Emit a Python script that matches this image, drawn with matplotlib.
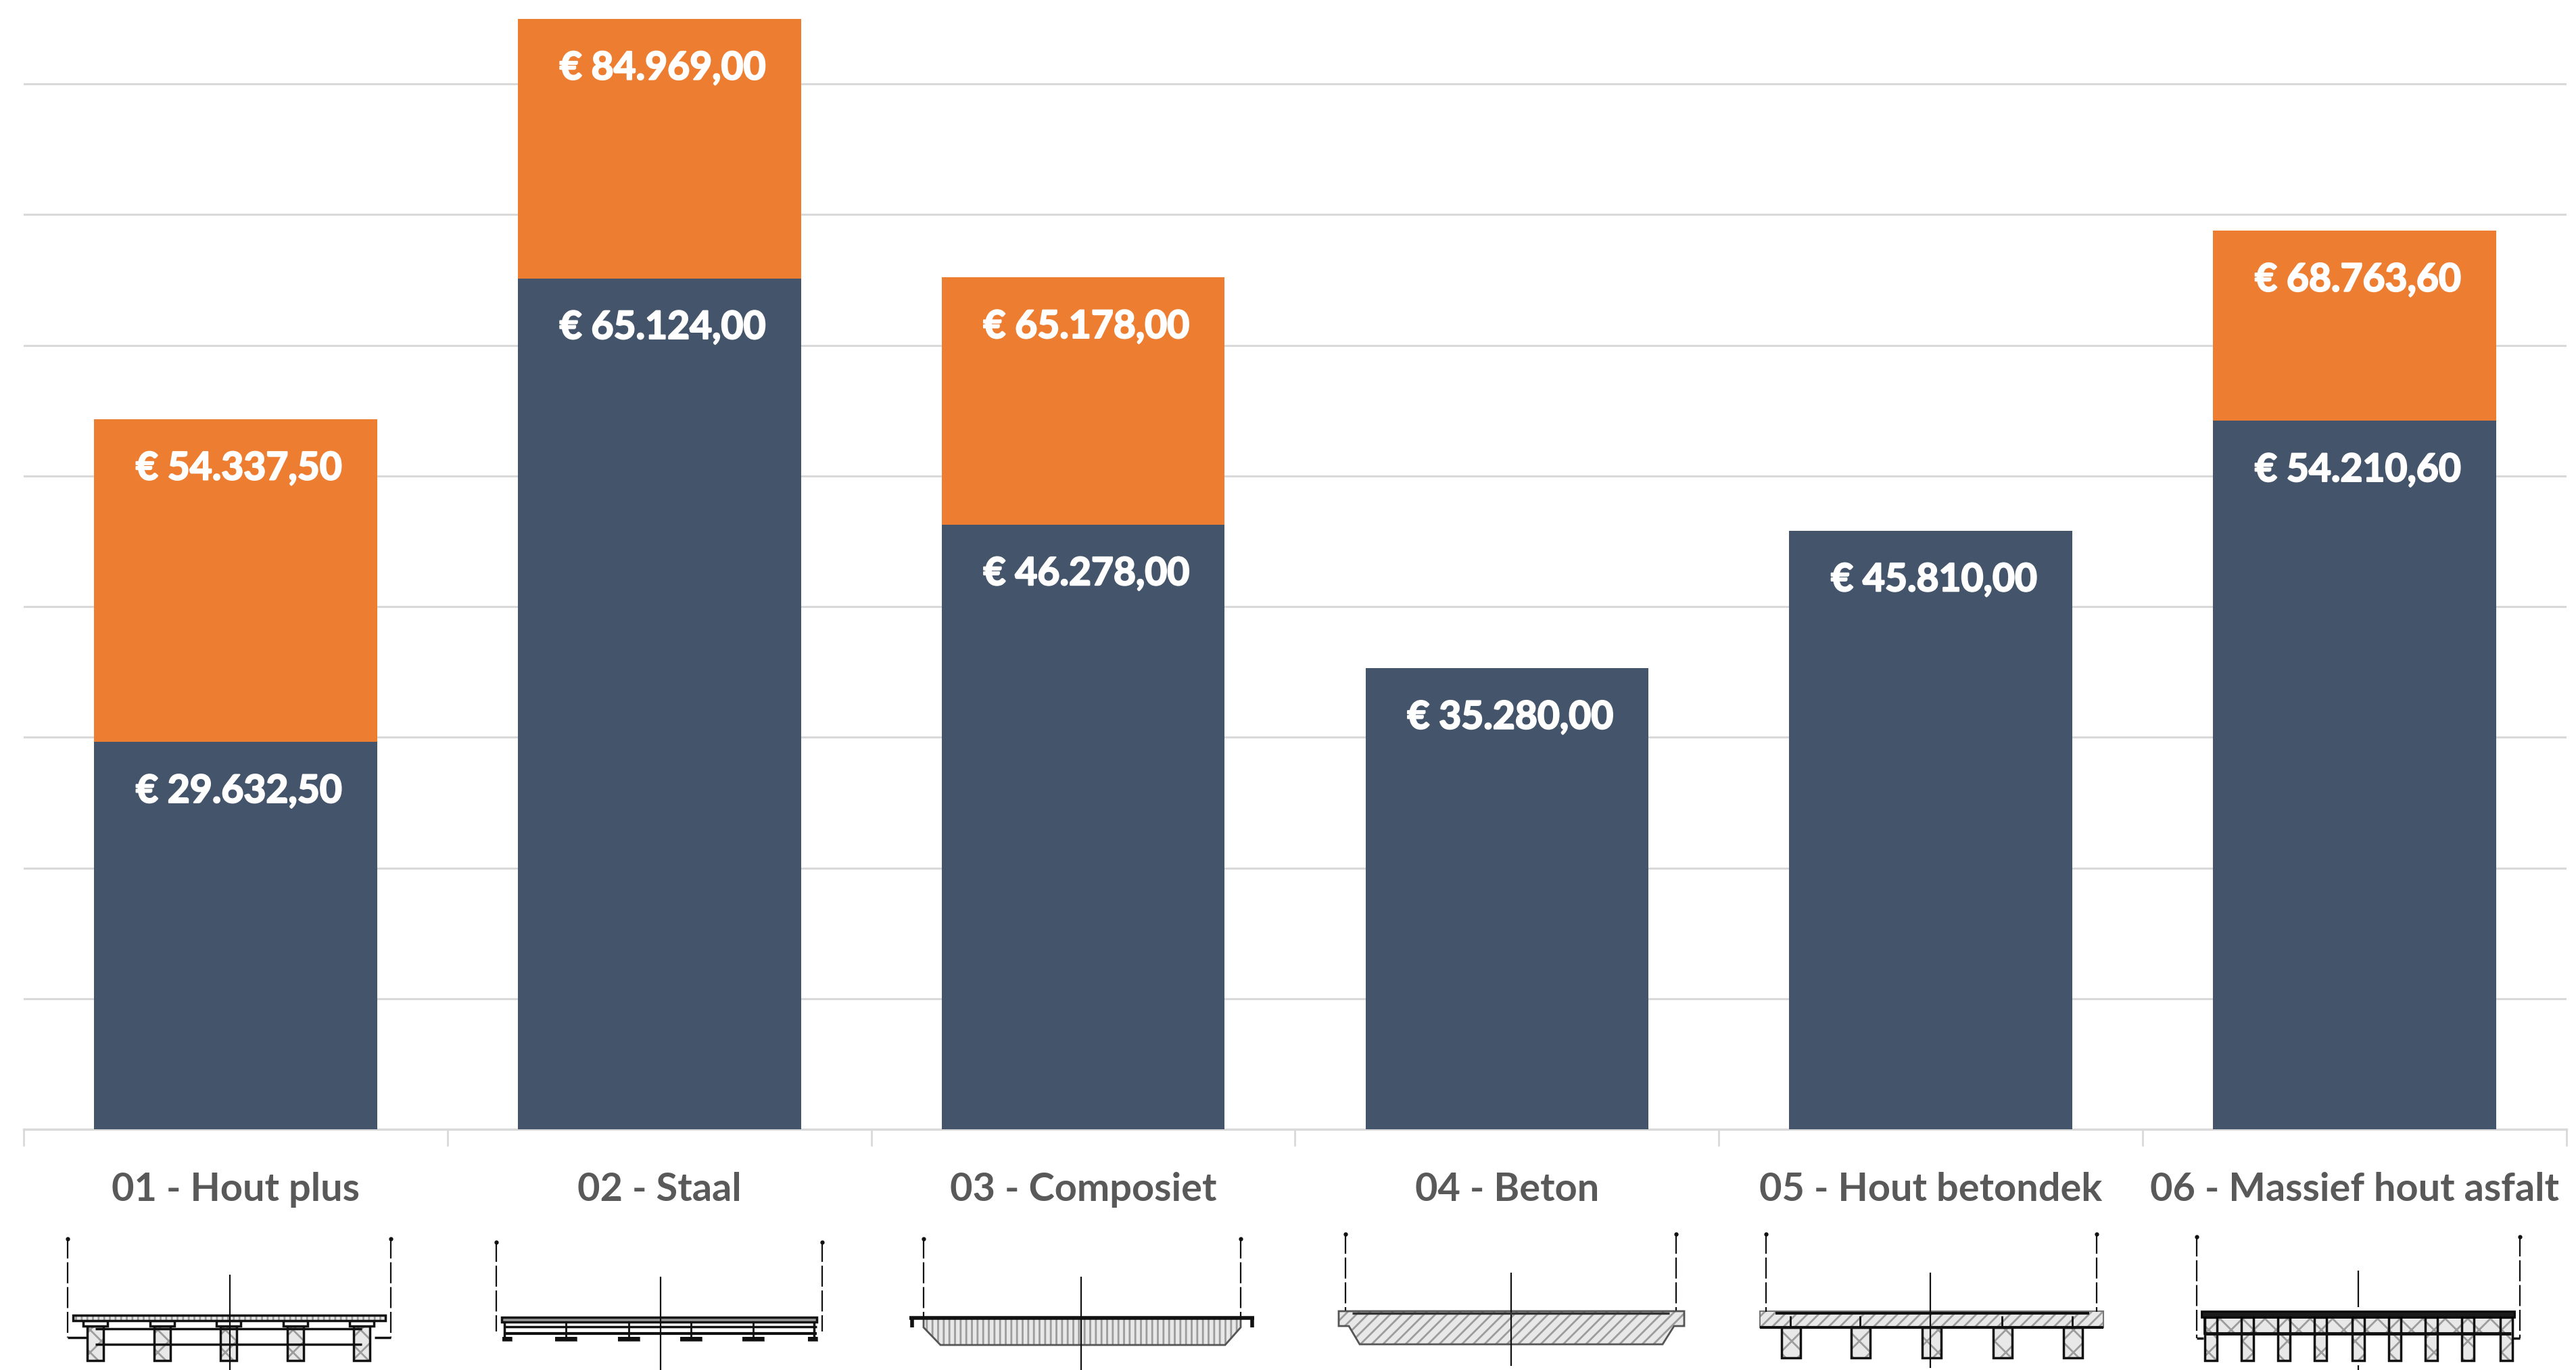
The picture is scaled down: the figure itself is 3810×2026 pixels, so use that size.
"""
Bridge deck cost comparison: stacked bars with a small cross section under each category
"""

import matplotlib.pyplot as plt
import matplotlib.patheffects as pe
from matplotlib.patches import Polygon, Rectangle
import numpy as np

categories = ["01 - Hout plus", "02 - Staal", "03 - Composiet", "04 - Beton",
              "05 - Hout betondek", "06 - Massief hout asfalt"]
lower_values = [29632.5, 65124.0, 46278.0, 35280.0, 45810.0, 54210.6]
upper_values = [54337.5, 84969.0, 65178.0, np.nan, np.nan, 68763.6]
gridline_values = [0, 10000, 20000, 30000, 40000, 50000, 60000, 70000, 80000]

BLUE = "#44546A"
ORANGE = "#ED7D31"
GRID = "#D9D9D9"
TEXT = "#595959"
LINE = "#111111"
HATCH_FILL = "#E8E8E8"
HATCH_LINE = "#9C9C9C"
WIDTH, HEIGHT = 3810, 2026

plt.rcParams["font.family"] = ["Lato", "DejaVu Sans"]
plt.rcParams["hatch.linewidth"] = 2.0


def euro(value):
    text = f"{value:,.2f}".replace(",", "_").replace(".", ",").replace("_", ".")
    return f"€ {text}"


def line(ax, xs, ys, lw=2.0, color=LINE, ls="-"):
    ax.plot(xs, ys, color=color, linewidth=lw, linestyle=ls, solid_capstyle="butt")


def box(ax, x0, y0, x1, y1, hatch=None, face=HATCH_FILL, edge=LINE, lw=2.0):
    # hatch takes the edge colour, so the fill and the outline are two patches
    ax.add_patch(Rectangle((x0, y0), x1 - x0, y1 - y0, facecolor=face, edgecolor=HATCH_LINE,
                           linewidth=0, hatch=hatch))
    ax.add_patch(Rectangle((x0, y0), x1 - x0, y1 - y0, facecolor="none", edgecolor=edge,
                           linewidth=lw))


def shape(ax, points, hatch, edge="#555555", lw=2.0):
    ax.add_patch(Polygon(points, facecolor=HATCH_FILL, edgecolor=HATCH_LINE, linewidth=0,
                         hatch=hatch))
    ax.add_patch(Polygon(points, facecolor="none", edgecolor=edge, linewidth=lw))


def guides(ax, left, right, center, top, bottom, center_top, gap=None, center_bottom=2026):
    # dashed outer guides with the small end dot, plus the centre line
    for x in (left, right):
        line(ax, [x, x], [top, bottom], lw=1.6, ls=(0, (14, 2.5)))
        ax.plot([x], [top + 2], marker="o", markersize=3.5, color=LINE)
    if gap is None:
        line(ax, [center, center], [center_top, center_bottom], lw=1.6)
    else:
        line(ax, [center, center], [center_top, gap[0]], lw=1.6)
        line(ax, [center, center], [gap[1], center_bottom], lw=1.6)


def draw_section_1(ax):
    guides(ax, 100, 578, 340, 1830, 1978, 1885)
    line(ax, [100, 129], [1978, 1978], lw=2.5)
    line(ax, [554, 578], [1978, 1978], lw=2.5)
    line(ax, [141, 535], [1965, 1965], lw=2.5)
    line(ax, [141, 535], [1988, 1988], lw=2.5)
    for x in [141, 240, 338, 437, 535]:
        box(ax, x - 12, 1961, x + 12, 2012, hatch="x", lw=2.5)
        box(ax, x - 18, 1953, x + 18, 1961, face="white", lw=2.5)
    box(ax, 108, 1945, 570, 1953, hatch="||", lw=2.5)


def draw_section_2(ax):
    guides(ax, 734, 1216, 977, 1835, 1969, 1888)
    box(ax, 742, 1948, 1208, 1955, face="#9A9A9A", lw=2.5)
    line(ax, [746, 1208], [1962, 1962], lw=2.5)
    line(ax, [746, 1208], [1972, 1972], lw=3.0)
    line(ax, [746, 746], [1955, 1977], lw=2.5)
    line(ax, [1204, 1204], [1955, 1977], lw=2.5)
    for x in [837, 930, 1022, 1114]:
        line(ax, [x, x], [1955, 1977], lw=2.0)
        box(ax, x - 16, 1977, x + 16, 1983, face=LINE, lw=0.5)
    for x in [750, 1202]:
        box(ax, x - 7, 1977, x + 7, 1983, face=LINE, lw=0.5)


def draw_section_3(ax):
    shape(ax, [(1366, 1949), (1366, 1963), (1391, 1989), (1812, 1989),
               (1835, 1963), (1835, 1949)], "||")
    guides(ax, 1366, 1835, 1599, 1830, 1948, 1888)
    line(ax, [1345, 1855], [1949, 1949], lw=4.0)
    line(ax, [1349, 1349], [1949, 1963], lw=4.0)
    line(ax, [1852, 1852], [1949, 1963], lw=4.0)


def draw_section_4(ax):
    shape(ax, [(1980, 1939), (2491, 1939), (2491, 1961), (2476, 1961),
               (2459, 1988), (2011, 1988), (1995, 1961), (1980, 1961)], "//")
    guides(ax, 1990, 2479, 2235, 1823, 1938, 1882, center_bottom=2020)
    line(ax, [2000, 2469], [1942, 1942], lw=2.5, color="#333333")


def draw_section_5(ax):
    for x in [2649, 2752, 2857, 2962, 3066]:
        box(ax, x - 14, 1963, x + 14, 2008, hatch="x", lw=2.5)
    box(ax, 2603, 1939, 3111, 1963, hatch="//", edge="#777777", lw=1.5)
    guides(ax, 2612, 3101, 2855, 1823, 1940, 1882, center_bottom=2023)
    for x in [2649, 2752, 2962, 3066]:
        line(ax, [x - 1, x - 1], [1946, 1963], lw=2.0)
    line(ax, [2603, 3111], [1963, 1963], lw=3.0)
    line(ax, [2626, 3090], [1942, 1942], lw=3.0)


def draw_section_6(ax):
    guides(ax, 3249, 3727, 3488, 1827, 1979, 1879, gap=(1933, 2019), center_bottom=2026)
    line(ax, [3249, 3259], [1979, 1979], lw=2.5)
    line(ax, [3717, 3727], [1979, 1979], lw=2.5)
    box(ax, 3260, 1948, 3714, 1972, hatch="x", lw=2.0)
    for x in [3270, 3324, 3378, 3432, 3488, 3542, 3596, 3650, 3707]:
        box(ax, x - 9, 1948, x + 9, 2012, hatch="x", lw=2.5)
    line(ax, [3260, 3714], [1972, 1972], lw=3.5)
    box(ax, 3256, 1939, 3719, 1948, face="#1A1A1A", edge="#000000", lw=2.0)


def bar_label(ax, xp, value):
    txt = ax.annotate(euro(value), (xp, value), xytext=(3.6, -52.5), textcoords="offset points",
                      ha="center", va="center", color="white", fontsize=41, fontweight="bold",
                      zorder=4)
    # Lato bold comes out thinner than the original label face
    txt.set_path_effects([pe.withStroke(linewidth=1.6, foreground="white")])


def plot_costs():
    fig = plt.figure(figsize=(WIDTH / 100, HEIGHT / 100), dpi=100, facecolor="white")
    ax = fig.add_axes([35 / WIDTH, (HEIGHT - 1670) / HEIGHT, 3761 / WIDTH, 1670 / HEIGHT])

    x = np.arange(len(categories))
    lower = np.array(lower_values)
    upper = np.array(upper_values)
    ax.bar(x, lower, width=0.668, color=BLUE, zorder=3)
    ax.bar(x, np.nan_to_num(upper - lower), bottom=lower, width=0.668, color=ORANGE, zorder=3)

    for xp, value in zip(x, lower_values):
        bar_label(ax, xp, value)
    for xp, value in zip(x, upper_values):
        if not np.isnan(value):
            bar_label(ax, xp, value)

    ax.set_xlim(-0.5, 5.5)
    ax.set_ylim(0, 86420)
    ax.set_yticks(gridline_values)
    ax.yaxis.grid(True, color=GRID, linewidth=2.2)
    ax.set_axisbelow(True)
    ax.tick_params(axis="y", left=False, labelleft=False)
    for name in ["top", "left", "right"]:
        ax.spines[name].set_visible(False)
    ax.spines["bottom"].set_color(GRID)
    ax.spines["bottom"].set_linewidth(2.4)

    ax.set_xticks(x)
    ax.set_xticklabels(categories, fontsize=41.6, fontweight="bold", color=TEXT)
    ax.tick_params(axis="x", length=0, pad=45)
    ax.set_xticks(np.arange(-0.5, 6.0, 1.0), minor=True)
    ax.tick_params(axis="x", which="minor", length=18, width=2.0, color=GRID)

    # cross sections are drawn in pixel coordinates of the whole figure
    overlay = fig.add_axes([0, 0, 1, 1], facecolor="none")
    overlay.set_xlim(0, WIDTH)
    overlay.set_ylim(HEIGHT, 0)
    overlay.axis("off")
    draw_section_1(overlay)
    draw_section_2(overlay)
    draw_section_3(overlay)
    draw_section_4(overlay)
    draw_section_5(overlay)
    draw_section_6(overlay)

    fig.savefig("out.png", dpi=100)


if __name__ == "__main__":
    plot_costs()
